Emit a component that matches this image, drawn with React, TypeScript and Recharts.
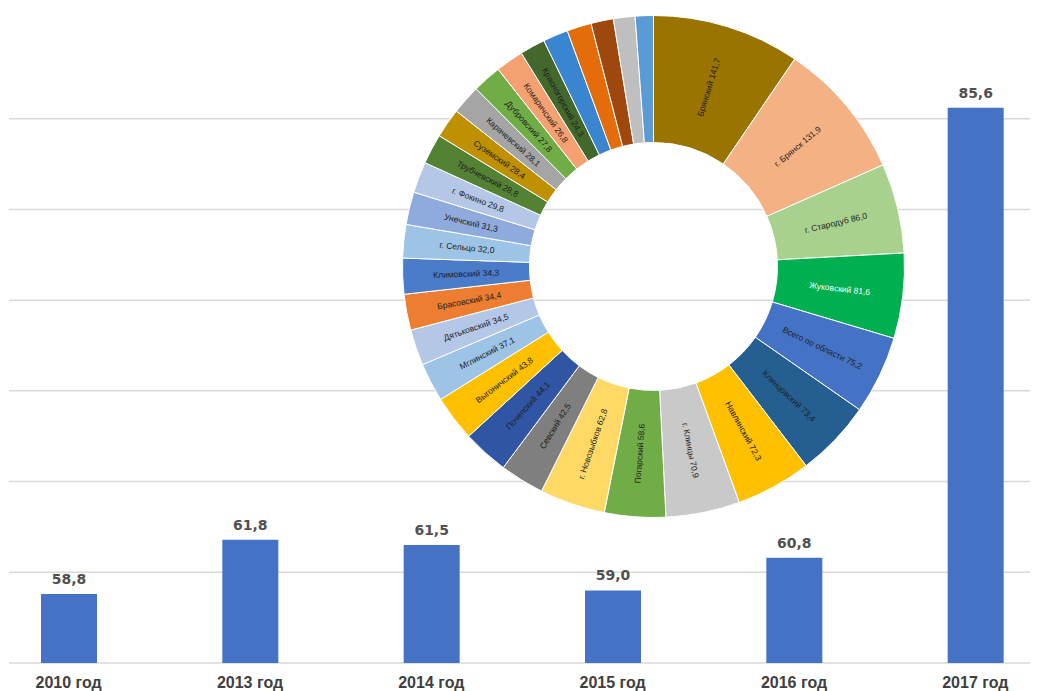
import React from 'react';
import { BarChart, Bar, XAxis, YAxis, CartesianGrid, LabelList, PieChart, Pie, Cell } from 'recharts';

// ---- Bar chart data ----
const years = ['2010 год', '2013 год', '2014 год', '2015 год', '2016 год', '2017 год'];
const yearValues = [58.8, 61.8, 61.5, 59.0, 60.8, 85.6];
const yTicks = [55, 60, 65, 70, 75, 80, 85];

// ---- Donut data (clockwise from top) ----
const districtNames = [
  'Брянский', 'г. Брянск', 'г. Стародуб', 'Жуковский', 'Всего по области', 'Клинцовский',
  'Навлинский', 'г. Клинцы', 'Погарский', 'г. Новозыбков', 'Севский', 'Почепский',
  'Выгоничский', 'Мглинский', 'Дятьковский', 'Брасовский', 'Климовский', 'г. Сельцо',
  'Унечский', 'г. Фокино', 'Трубчевский', 'Суземский', 'Карачевский', 'Дубровский',
  'Комаричский', 'Красногорский', 'Гордеевский', 'Жирятинский', 'Злынковский',
  'Клетнянский', 'Рогнединский',
];
const districtValues = [
  141.7, 131.9, 86.0, 81.6, 75.2, 73.4,
  72.3, 70.9, 58.6, 62.8, 42.5, 44.1,
  43.8, 37.1, 34.5, 34.4, 34.3, 32.0,
  31.3, 29.8, 28.8, 28.4, 28.1, 27.8,
  26.8, 24.3, 24.0, 23.5, 21.5,
  20.7, 17.4,
];
const districtColors = [
  '#9A7400', '#F4B183', '#A9D18E', '#00B050', '#4472C4', '#255E91',
  '#FFC000', '#C9C9C9', '#70AD47', '#FFD966', '#7F7F7F', '#2F55A4',
  '#FFC000', '#9DC3E6', '#B4C7E7', '#ED7D31', '#4A7CC9', '#9DC3E6',
  '#8FAADC', '#B4C7E7', '#548235', '#BF9000', '#A5A5A5', '#70AD47',
  '#F4A070', '#43682B', '#3A85D0', '#E46C0A', '#9E480E',
  '#BFBFBF', '#5B9BD5',
];
const labelledCount = 26;

const barData = years.map((y, i) => ({ year: y, value: yearValues[i] }));
const pieData = districtNames.map((n, i) => ({ name: n, value: districtValues[i] }));

const fmt = (v: number) => v.toFixed(1).replace('.', ',');
const RAD = Math.PI / 180;

function renderPieLabel(props: any) {
  const { cx, cy, midAngle, innerRadius, outerRadius, index, value } = props;
  if (index >= labelledCount) return null;
  const name = props.payload?.name ?? props.name;
  const r = (innerRadius + outerRadius) / 2;
  const x = cx + r * Math.cos(-midAngle * RAD);
  const y = cy + r * Math.sin(-midAngle * RAD);
  const cw = (((90 - midAngle) % 360) + 360) % 360;
  const rot = cw < 180 ? cw - 90 : cw - 270;
  const white = districtColors[index] === '#00B050';
  return (
    <text
      key={`lbl-${index}`}
      x={x}
      y={y}
      transform={`rotate(${rot} ${x} ${y})`}
      textAnchor="middle"
      dominantBaseline="central"
      fontSize={8.5}
      fontFamily="Liberation Sans, Arial, sans-serif"
      fill={white ? '#FFFFFF' : '#1E1E1E'}
    >
      {`${name} ${fmt(value)}`}
    </text>
  );
}

export default function App() {
  return (
    <div style={{ position: 'absolute', left: 0, top: 0, width: 1038, height: 691, overflow: 'hidden', background: '#fff' }}>
      <div style={{ position: 'absolute', left: 0, top: 0 }}>
        <BarChart width={1038} height={691} data={barData} margin={{ top: 28, right: 8, left: 9, bottom: 0 }}>
          <CartesianGrid vertical={false} horizontalValues={yTicks} stroke="#D9D9D9" strokeWidth={1.5} />
          <XAxis
            dataKey="year"
            height={28}
            padding={{ left: -31, right: -36 }}
            axisLine={false}
            tickLine={false}
            tickMargin={8}
            interval={0}
            tick={{ fontSize: 16, fontWeight: 'bold', fill: '#404040', fontFamily: 'Liberation Sans, Arial, sans-serif' }}
          />
          <YAxis hide domain={[55, 90]} ticks={yTicks} />
          <Bar dataKey="value" fill="#4472C4" barSize={56} isAnimationActive={false}>
            <LabelList
              dataKey="value"
              position="top"
              offset={10}
              formatter={(v: any) => fmt(Number(v))}
              style={{ fontSize: 14, fontWeight: 'bold', fill: '#505050', fontFamily: 'DejaVu Sans, sans-serif' }}
            />
          </Bar>
        </BarChart>
      </div>
      <div style={{ position: 'absolute', left: 0, top: 0, pointerEvents: 'none' }}>
        <PieChart width={1038} height={691} margin={{ top: 0, right: 0, bottom: 0, left: 0 }}>
          <Pie
            data={pieData}
            dataKey="value"
            nameKey="name"
            cx={653.5}
            cy={266.5}
            innerRadius={124}
            outerRadius={251}
            startAngle={90}
            endAngle={-270}
            stroke="#FFFFFF"
            strokeWidth={1}
            labelLine={false}
            label={renderPieLabel}
            isAnimationActive={false}
          >
            {pieData.map((d, i) => (
              <Cell key={d.name} fill={districtColors[i]} />
            ))}
          </Pie>
        </PieChart>
      </div>
    </div>
  );
}
